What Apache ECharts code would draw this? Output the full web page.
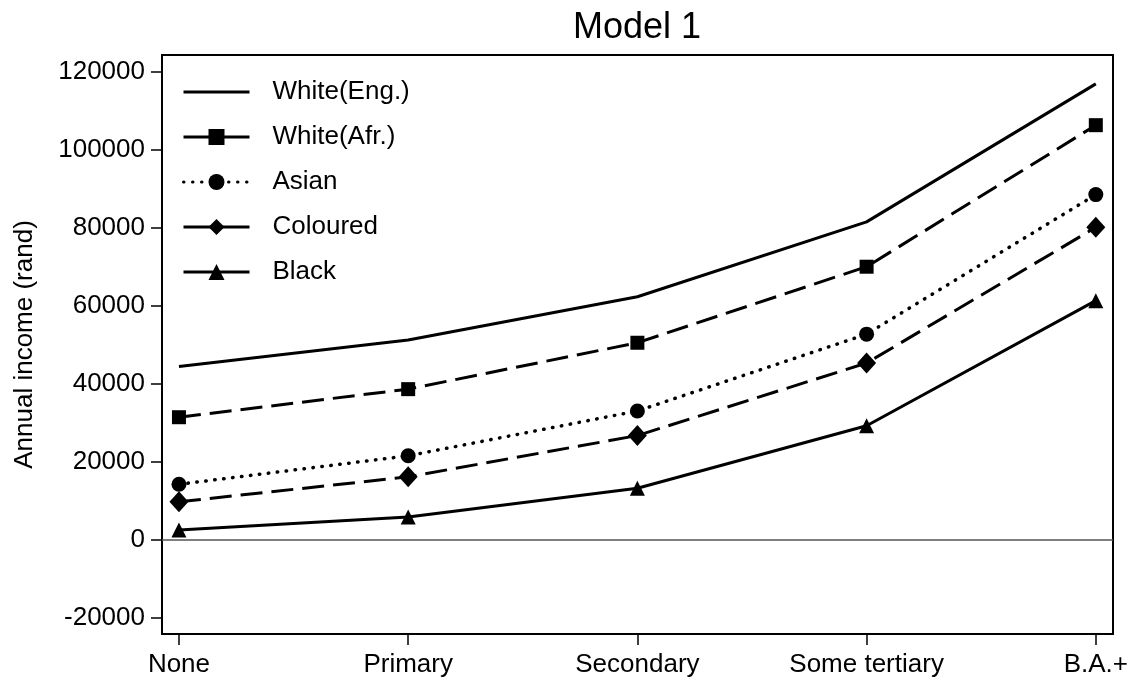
<!DOCTYPE html>
<html>
<head>
<meta charset="utf-8">
<script src="https://cdn.jsdelivr.net/npm/echarts@6/dist/echarts.min.js"></script>
<style>
html,body{margin:0;padding:0;background:#fff;}
#chart{width:1136px;height:685px;}
</style>
</head>
<body>
<div id="chart"></div>
<script>
var categories = ['None', 'Primary', 'Secondary', 'Some tertiary', 'B.A.+'];
var whiteEng = [44500, 51300, 62400, 81600, 117000];
var whiteAfr = [31500, 38700, 50600, 70100, 106400];
var asian = [14300, 21600, 33100, 52800, 88600];
var coloured = [9800, 16200, 26800, 45400, 80200];
var black = [2600, 5900, 13300, 29300, 61400];
var yTicks = [-20000, 0, 20000, 40000, 60000, 80000, 100000, 120000];

function pts(arr) { return arr.map(function (v, i) { return [i, v]; }); }

var FONT = 'Liberation Sans, Arial, sans-serif';
var chart = echarts.init(document.getElementById('chart'));

function mkSeries(name, data, symbol, size, lineType, extra) {
  var s = {
    name: name,
    type: 'line',
    data: pts(data),
    symbol: symbol,
    symbolSize: size,
    showSymbol: symbol !== 'none',
    lineStyle: { color: '#000', width: 3, type: lineType },
    itemStyle: { color: '#000' },
    animation: false,
    silent: true,
    z: 3
  };
  if (extra) { for (var k in extra) s[k] = extra[k]; }
  return s;
}

var solidLeg = { type: 'solid', width: 3, color: '#000' };

var option = {
  backgroundColor: '#fff',
  title: {
    text: 'Model 1',
    left: 632,
    textAlign: 'center',
    top: 5,
    textStyle: { fontFamily: FONT, fontSize: 36, fontWeight: 'normal', color: '#000' }
  },
  legend: {
    orient: 'vertical',
    left: 182,
    top: 79,
    padding: 0,
    itemWidth: 66,
    itemHeight: 20,
    itemGap: 19,
    textStyle: { fontFamily: FONT, fontSize: 26, color: '#000', padding: [0, 0, 0, 18] },
    data: [
      { name: 'White(Eng.)', lineStyle: solidLeg, itemStyle: { opacity: 0 } },
      { name: 'White(Afr.)', lineStyle: solidLeg },
      { name: 'Asian', lineStyle: { type: [0.5, 8.5], width: 3, cap: 'round', color: '#000' } },
      { name: 'Coloured', lineStyle: solidLeg },
      { name: 'Black', lineStyle: solidLeg }
    ]
  },
  grid: {
    left: 162, right: 23, top: 55, bottom: 51,
    show: true, borderColor: '#000', borderWidth: 2, backgroundColor: 'transparent',
    containLabel: false
  },
  xAxis: {
    type: 'value',
    min: -0.074,
    max: 4.075,
    axisLine: { show: true, onZero: false, lineStyle: { color: '#000', width: 2 } },
    axisTick: { show: true, length: 11, inside: false, customValues: [0, 1, 2, 3, 4], lineStyle: { color: '#000', width: 1.5 } },
    axisLabel: {
      show: true, margin: 18, customValues: [0, 1, 2, 3, 4],
      fontFamily: FONT, fontSize: 26, color: '#000',
      formatter: function (v) { return categories[Math.round(v)]; }
    },
    splitLine: { show: false }
  },
  yAxis: {
    type: 'value',
    min: -24100,
    max: 124400,
    name: 'Annual income (rand)',
    nameLocation: 'middle',
    nameGap: 124,
    nameTextStyle: { fontFamily: FONT, fontSize: 26, color: '#000' },
    axisLine: { show: true, onZero: false, lineStyle: { color: '#000', width: 2 } },
    axisTick: { show: true, length: 11, customValues: yTicks, lineStyle: { color: '#000', width: 1.5 } },
    axisLabel: {
      show: true, margin: 17, customValues: yTicks,
      fontFamily: FONT, fontSize: 26, color: '#000',
      formatter: function (v) { return String(v); }
    },
    splitLine: { show: false }
  },
  series: [
    mkSeries('White(Eng.)', whiteEng, 'none', 0, 'solid', {
      markLine: {
        silent: true, symbol: 'none', animation: false,
        label: { show: false },
        lineStyle: { color: '#555', width: 1.5, type: 'solid' },
        data: [{ yAxis: 0 }]
      }
    }),
    mkSeries('White(Afr.)', whiteAfr, 'rect', 14, [22, 9]),
    mkSeries('Asian', asian, 'circle', 15, [0.5, 8.5], {
      lineStyle: { color: '#000', width: 3.5, type: [0.5, 8.5], cap: 'round' }
    }),
    mkSeries('Coloured', coloured, 'diamond', [19, 21], [22, 9]),
    mkSeries('Black', black, 'triangle', 15, 'solid')
  ]
};
chart.setOption(option);
</script>
</body>
</html>
